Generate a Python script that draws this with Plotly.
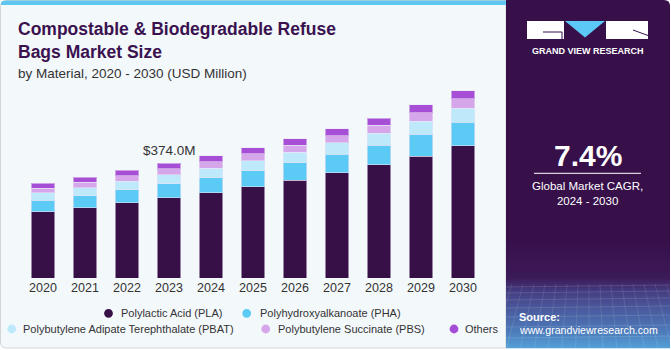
import plotly.graph_objects as go

years = ["2020", "2021", "2022", "2023", "2024", "2025", "2026", "2027", "2028", "2029", "2030"]
pla = [217, 230, 245, 262, 279, 298, 319, 343, 369, 398, 432]
pha = [36, 39, 43, 46, 49, 52, 57, 61, 64, 71, 76]
pbat = [25, 26, 27, 29, 31, 33, 35, 37, 40, 43, 46]
pbs = [15, 17, 18, 19, 21, 22, 23, 24, 26, 28, 31]
others = [17, 17, 18, 18, 19, 20, 21, 22, 23, 26, 27]
series_names = ["Polylactic Acid (PLA)", "Polyhydroxyalkanoate (PHA)",
                "Polybutylene Adipate Terephthalate (PBAT)", "Polybutylene Succinate (PBS)", "Others"]
series_colors = ["#371048", "#5BCBF5", "#BDE9FA", "#D5A6EA", "#A64FD6"]
highlight_year = "2023"
highlight_label = "$374.0M"
cagr = "7.4%"
cagr_label = "Global Market CAGR,<br>2024 - 2030"

W, H = 671, 350
ML, MR, MT, MB = 22, 187, 80, 72
PW = W - ML - MR
PH = H - MT - MB
FONT = "Liberation Sans, Arial, sans-serif"


def px(x):
    return (x - ML) / PW


def py(y):
    return (H - MB - y) / PH


fig = go.Figure()
for name, vals, col in zip(series_names, [pla, pha, pbat, pbs, others], series_colors):
    fig.add_trace(go.Bar(x=years, y=vals, name=name, marker_color=col,
                         marker_line=dict(width=1, color="rgba(235,228,245,0.55)"),
                         showlegend=False))

shapes = []
# main panel
r = 6
x0, x1, y0, y1 = 0.5, 506, 0.5, 348
path = (f"M {px(x0 + r)} {py(y0)} L {px(x1)} {py(y0)} L {px(x1)} {py(y1)} "
        f"L {px(x0 + r)} {py(y1)} Q {px(x0)} {py(y1)} {px(x0)} {py(y1 - r)} "
        f"L {px(x0)} {py(y0 + r)} Q {px(x0)} {py(y0)} {px(x0 + r)} {py(y0)} Z")
shapes.append(dict(type="path", xref="paper", yref="paper", path=path,
                   fillcolor="#F3F8FB", line=dict(color="#D4D4D4", width=1), layer="below"))
# top blue strip
path = (f"M {px(x0 + r)} {py(0.5)} L {px(506)} {py(0.5)} L {px(506)} {py(5)} "
        f"L {px(1)} {py(5)} L {px(1)} {py(3)} Q {px(1)} {py(0.5)} {px(x0 + r)} {py(0.5)} Z")
shapes.append(dict(type="path", xref="paper", yref="paper", path=path,
                   fillcolor="#5EC6F1", line=dict(width=0), layer="below"))

# right panel
rx0, rx1, ry0, ry1 = 506, 670, 0, 348
rr = 6
path = (f"M {px(rx0)} {py(ry0)} L {px(rx1 - rr)} {py(ry0)} Q {px(rx1)} {py(ry0)} {px(rx1)} {py(ry0 + rr)} "
        f"L {px(rx1)} {py(ry1 - rr)} Q {px(rx1)} {py(ry1)} {px(rx1 - rr)} {py(ry1)} "
        f"L {px(rx0)} {py(ry1)} Z")
shapes.append(dict(type="path", xref="paper", yref="paper", path=path,
                   fillcolor="#37104A", line=dict(width=0), layer="below"))


def lerp(c1, c2, t):
    a = [int(c1[i:i + 2], 16) for i in (1, 3, 5)]
    b = [int(c2[i:i + 2], 16) for i in (1, 3, 5)]
    return "rgb(%d,%d,%d)" % tuple(round(a[k] + (b[k] - a[k]) * t) for k in range(3))


stops = [(240, "#37104A"), (278, "#3C1A58"), (290, "#443A7E"), (310, "#4A5C9F"), (330, "#4D78B8"), (348, "#53A0D6")]
for i in range(len(stops) - 1):
    ya, ca = stops[i]
    yb, cb = stops[i + 1]
    step = 2
    y = ya
    while y < yb:
        t = (y - ya + step / 2) / (yb - ya)
        ye = min(y + step, yb)
        shapes.append(dict(type="rect", xref="paper", yref="paper", x0=px(rx0), x1=px(rx1),
                           y0=py(y), y1=py(ye + 0.3), fillcolor=lerp(ca, cb, t), line=dict(width=0),
                           layer="below"))
        y += step
# faint grid lines
for gy in [287, 293, 300, 308, 317, 327, 338]:
    shapes.append(dict(type="line", xref="paper", yref="paper", x0=px(rx0), x1=px(rx1),
                       y0=py(gy), y1=py(gy - 2), line=dict(color="rgba(255,255,255,0.13)", width=1),
                       layer="below"))
for gx in range(512, 670, 11):
    shapes.append(dict(type="line", xref="paper", yref="paper", x0=px(gx), x1=px(gx + (gx - 588) * 0.25),
                       y0=py(284), y1=py(348), line=dict(color="rgba(255,255,255,0.10)", width=1),
                       layer="below"))

# logo
shapes.append(dict(type="rect", xref="paper", yref="paper", x0=px(527), x1=px(564), y0=py(21), y1=py(39),
                   fillcolor="white", line=dict(width=0)))
shapes.append(dict(type="rect", xref="paper", yref="paper", x0=px(606), x1=px(648), y0=py(21), y1=py(39),
                   fillcolor="white", line=dict(width=0)))
shapes.append(dict(type="path", xref="paper", yref="paper",
                   path=f"M {px(565)} {py(21)} L {px(605)} {py(21)} L {px(585)} {py(37.5)} Z",
                   fillcolor="#5BC8F5", line=dict(width=0)))
shapes.append(dict(type="path", xref="paper", yref="paper",
                   path=f"M {px(543)} {py(32)} L {px(562)} {py(32)} L {px(562)} {py(39)}",
                   line=dict(color="#37104A", width=1)))
shapes.append(dict(type="line", xref="paper", yref="paper", x0=px(633), y0=py(30), x1=px(648), y1=py(35.5),
                   line=dict(color="#37104A", width=1)))
# CAGR divider
shapes.append(dict(type="line", xref="paper", yref="paper", x0=px(534), x1=px(641), y0=py(173.3), y1=py(173.3),
                   line=dict(color="white", width=1)))

# legend markers (circles)
legend_pos = [(108.5, 313.3, 120), (246.7, 313.3, 259), (11.7, 329, 22), (265.7, 329, 276.7), (454, 329, 464.3)]
annotations = []
for (cx, cy, tx), name, col in zip(legend_pos, series_names, series_colors):
    shapes.append(dict(type="circle", xref="paper", yref="paper", x0=px(cx - 4.4), x1=px(cx + 4.4),
                       y0=py(cy - 4.4), y1=py(cy + 4.4), fillcolor=col, line=dict(width=0)))
    annotations.append(dict(xref="paper", yref="paper", x=px(tx - 1), y=py(cy), text=name, showarrow=False,
                            xanchor="left", yanchor="middle", font=dict(family=FONT, size=11, color="#333333")))

# titles
annotations.append(dict(xref="paper", yref="paper", x=px(16), y=py(40.5),
                        text="<b>Compostable &amp; Biodegradable Refuse<br>Bags Market Size</b>",
                        showarrow=False, xanchor="left", yanchor="middle", align="left",
                        font=dict(family=FONT, size=17.5, color="#3B1250")))
annotations.append(dict(xref="paper", yref="paper", x=px(16), y=py(73.5),
                        text="by Material, 2020 - 2030 (USD Million)", showarrow=False,
                        xanchor="left", yanchor="middle", font=dict(family=FONT, size=13.5, color="#333333")))
# highlight label (category index used for position)
hi = years.index(highlight_year)
total = pla[hi] + pha[hi] + pbat[hi] + pbs[hi] + others[hi]
annotations.append(dict(x=hi, y=total, xref="x", yref="y", text=highlight_label, showarrow=False,
                        yanchor="middle", yshift=13, font=dict(family=FONT, size=13.5, color="#333333")))
# right panel texts
annotations.append(dict(xref="paper", yref="paper", x=px(587.5), y=py(50.5), text="<b>GRAND VIEW RESEARCH</b>",
                        showarrow=False, xanchor="center", yanchor="middle",
                        font=dict(family=FONT, size=9, color="white")))
annotations.append(dict(xref="paper", yref="paper", x=px(587.5), y=py(155), text=f"<b>{cagr}</b>",
                        showarrow=False, xanchor="center", yanchor="middle",
                        font=dict(family=FONT, size=30, color="white")))
annotations.append(dict(xref="paper", yref="paper", x=px(587.5), y=py(193.5), text=cagr_label,
                        showarrow=False, xanchor="center", yanchor="middle", align="center",
                        font=dict(family=FONT, size=11.5, color="white")))
annotations.append(dict(xref="paper", yref="paper", x=px(516.5), y=py(316.5), text="<b>Source:</b>",
                        showarrow=False, xanchor="left", yanchor="middle",
                        font=dict(family=FONT, size=11, color="white")))
annotations.append(dict(xref="paper", yref="paper", x=px(516.5), y=py(329.5), text="www.grandviewresearch.com",
                        showarrow=False, xanchor="left", yanchor="middle",
                        font=dict(family=FONT, size=10.6, color="white")))

fig.update_layout(
    width=W, height=H, barmode="stack", bargap=0.45,
    margin=dict(l=ML, r=MR, t=MT, b=MB, pad=0),
    paper_bgcolor="white", plot_bgcolor="rgba(0,0,0,0)",
    shapes=shapes, annotations=annotations, showlegend=False,
    xaxis=dict(type="category", range=[-0.5, len(years) - 0.5], showgrid=False, zeroline=False,
               showline=False, ticks="", categoryorder="array", categoryarray=years,
               tickfont=dict(family=FONT, size=12.5, color="#333333"), fixedrange=True),
    yaxis=dict(range=[0, PH * 3.264], visible=False, showgrid=False, fixedrange=True),
    font=dict(family=FONT),
)
fig.write_html("out.html", config={"displayModeBar": False})
